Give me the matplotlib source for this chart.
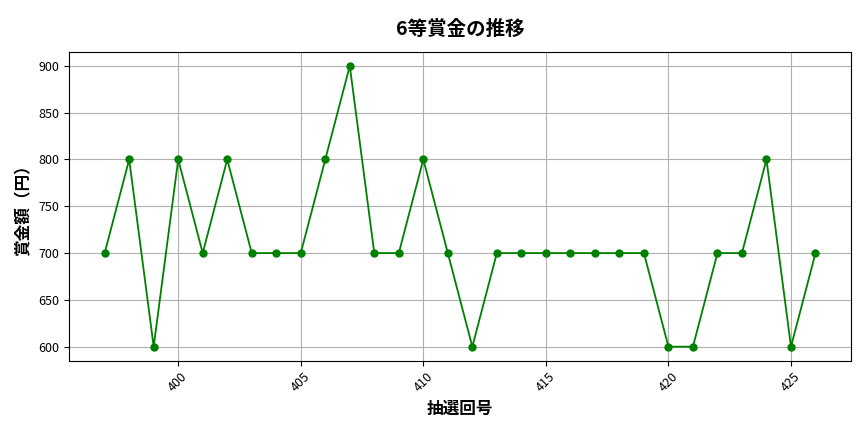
import matplotlib
matplotlib.use("Agg")
import matplotlib.pyplot as plt

plt.rcParams['font.family'] = ['Noto Sans CJK JP', 'DejaVu Sans']

draws = list(range(397, 427))
prizes = [700, 800, 600, 800, 700, 800, 700, 700, 700, 800,
          900, 700, 700, 800, 700, 600, 700, 700, 700, 700,
          700, 700, 700, 600, 600, 700, 700, 800, 600, 700]

fig, ax = plt.subplots(figsize=(8.64, 4.32), dpi=100)
ax.plot(draws, prizes, color='green', marker='o', markersize=5, linewidth=1.3)
ax.set_title('6等賞金の推移', fontsize=14, fontweight='bold', pad=12)
ax.set_xlabel('抽選回号', fontsize=12, fontweight='bold')
ax.set_ylabel('賞金額（円）', fontsize=12, fontweight='bold')
ax.grid(True, color='#b0b0b0', linewidth=0.8)
ax.tick_params(axis='x', labelrotation=45, labelsize=9)
ax.tick_params(axis='y', labelsize=9)
fig.subplots_adjust(left=0.08, right=0.985, top=0.88, bottom=0.165)
fig.savefig('out.png', dpi=100)
